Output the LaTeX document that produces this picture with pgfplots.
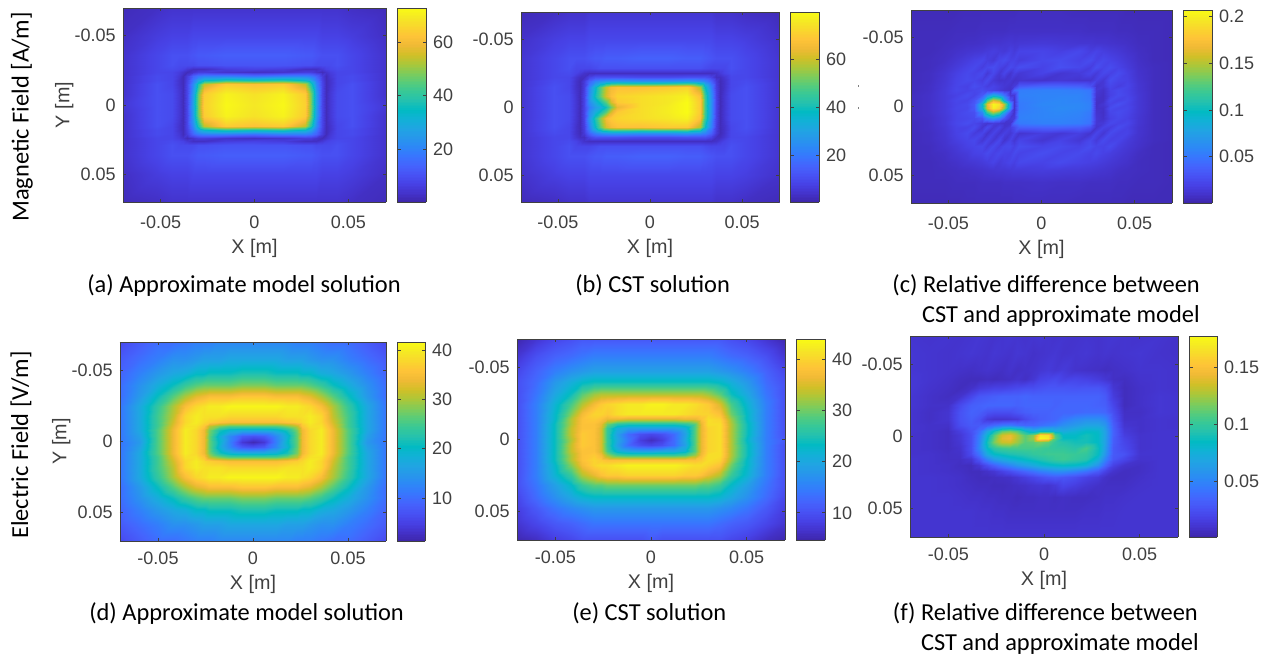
\documentclass[border=0pt]{standalone}
\usepackage{fontspec}
\usepackage{pgfplots}
\pgfplotsset{compat=1.18}
\setmainfont{Liberation Sans}
\newfontfamily\capfont{Carlito}
\pgfplotsset{colormap={parula}{rgb=(.2422,.1504,.6603) rgb=(.2647,.1978,.7952) rgb=(.2783,.2559,.8991) rgb=(.2810,.3228,.9579) rgb=(.2699,.3892,.9906) rgb=(.2206,.4603,.9973) rgb=(.1786,.5289,.9682) rgb=(.1540,.5902,.9218) rgb=(.1248,.6459,.8883) rgb=(.0689,.6948,.8394) rgb=(.0067,.7312,.7660) rgb=(.1408,.7584,.6842) rgb=(.2161,.7843,.5923) rgb=(.3406,.8008,.4789) rgb=(.5044,.7993,.3480) rgb=(.6720,.7793,.2227) rgb=(.8203,.7498,.1535) rgb=(.9393,.7288,.2100) rgb=(.9970,.7659,.2199) rgb=(.9786,.8386,.1766) rgb=(.9597,.9135,.1423) rgb=(.9769,.9839,.0805)}}
\definecolor{ax}{gray}{0.25}
\newcommand\tf{\fontsize{13.5}{16}\selectfont}
\newcommand\lf{\fontsize{14.8}{17}\selectfont}
\pgfplotsset{
 hm/.style={scale only axis,axis on top,view={0}{90},xmin=-70,xmax=70,ymin=-70,ymax=70,y dir=reverse,
  xtick={-50,0,50},ytick={-50,0,50},xticklabels={-0.05,0,0.05},yticklabels={-0.05,0,0.05},
  tick align=inside,major tick length=2.5pt,tick style={ax,line width=.5pt},axis line style={ax,line width=.7pt},
  tick label style={font=\tf,text=ax},label style={font=\lf,text=ax},xlabel={X [m]},colormap name=parula,colorbar sampled,
  yticklabel style={xshift=-2pt},ylabel style={yshift=-6pt}},
 top/.style={hm,xticklabel style={yshift=-7.25pt},xlabel style={yshift=-0.75pt}},
 bot/.style={hm,xticklabel style={yshift=-5pt},xlabel style={yshift=-0.75pt}},
 cb/.style={samples=128,scale only axis,axis line style={ax,line width=.7pt},tick align=inside,major tick length=2.5pt,tick style={ax,line width=.5pt},
  tick label style={font=\tf,text=ax},anchor=north west,yticklabel style={xshift=1.5pt}}
}
\newcommand\startgrid[1]{\gdef\xg{{#1}}\gdef\Coords{}}
\newcommand\G[2]{\foreach \z [count=\i from 0] in {#2}{\pgfmathtruncatemacro\xv{\xg[\i]}\xdef\Coords{\Coords(\xv,#1,\z)}}}
% (a)
\startgrid{-70,-52,-44,-40,-38,-36,-33,-30,-27,-15,0,15,27,30,33,36,38,40,44,52,70}
\G{-70}{2,3,4,4,4,4,4,4,4,4,4,4,4,4,4,4,4,4,4,3,2}
\G{-50}{3,6,7,7,7,7,8,8,8,8,8,8,8,8,8,7,7,7,7,6,3}
\G{-36}{4,8,10,10,10,10,11,12,12,13,13,13,12,12,11,10,10,10,10,8,4}
\G{-29}{4,8,10,9,9,9,9,10,10,11,11,11,10,10,9,9,9,9,10,8,4}
\G{-26}{4,8,9,8,7,5,3,3,3,6,7,6,3,3,3,5,7,8,9,8,4}
\G{-24}{4,8,8,6,4,2,4,6,6,4,3,4,6,6,4,2,4,6,8,8,4}
\G{-21}{4,9,8,5,2,6,14,18,20,20,17,20,20,18,14,6,2,5,8,9,4}
\G{-18}{4,9,8,4,2,7,18,27,33,38,36,38,33,27,18,7,2,4,8,9,4}
\G{-15}{4,10,8,4,2,8,22,38,54,64,62,64,54,38,22,8,2,4,8,10,4}
\G{-8}{4,10,9,5,2,8,26,47,64,71,68,71,64,47,26,8,2,5,9,10,4}
\G{0}{5,10,9,5,2,8,27,48,65,72,69,72,65,48,27,8,2,5,9,10,5}
\G{8}{4,10,9,5,2,8,26,47,64,71,68,71,64,47,26,8,2,5,9,10,4}
\G{15}{4,10,8,4,2,8,22,38,54,64,62,64,54,38,22,8,2,4,8,10,4}
\G{18}{4,9,8,4,2,7,18,27,33,38,36,38,33,27,18,7,2,4,8,9,4}
\G{21}{4,9,8,5,2,6,14,18,20,20,17,20,20,18,14,6,2,5,8,9,4}
\G{24}{4,8,8,6,4,2,4,6,6,4,3,4,6,6,4,2,4,6,8,8,4}
\G{26}{4,8,9,8,7,5,3,3,3,6,7,6,3,3,3,5,7,8,9,8,4}
\G{29}{4,8,10,9,9,9,9,10,10,11,11,11,10,10,9,9,9,9,10,8,4}
\G{36}{4,8,10,10,10,10,11,12,12,13,13,13,12,12,11,10,10,10,10,8,4}
\G{50}{3,6,7,7,7,7,8,8,8,8,8,8,8,8,8,7,7,7,7,6,3}
\G{70}{2,3,4,4,4,4,4,4,4,4,4,4,4,4,4,4,4,4,4,3,2}
\global\let\CoordsA\Coords
% (b)
\startgrid{-70,-52,-44,-40,-38,-36,-33,-30,-27,-24,-21,-18,-5,10,20,27,30,33,36,38,40,44,52,70}
\G{-70}{2,3,4,4,4,4,5,5,5,5,5,5,5,5,5,5,5,5,4,4,4,4,3,2}
\G{-50}{4,7,8,8,8,8,9,9,9,9,9,9,9,9,9,9,9,9,8,8,8,8,7,4}
\G{-36}{5,9,11,11,11,11,12,13,13,14,14,14,15,15,14,14,13,12,11,11,11,11,9,5}
\G{-29}{5,9,11,9,9,9,9,10,11,11,11,11,11,11,11,11,10,9,9,9,9,11,9,5}
\G{-25}{5,9,10,8,6,4,3,3,3,3,3,3,3,3,3,3,3,3,4,6,8,10,9,5}
\G{-22}{5,9,9,5,3,3,8,11,11,11,11,11,10,10,11,11,11,8,3,3,5,9,9,5}
\G{-19}{5,10,9,4,2,6,15,22,25,27,28,28,26,26,28,25,22,15,6,2,4,9,10,5}
\G{-15}{5,11,9,4,2,7,22,36,48,60,66,68,68,70,72,58,38,22,7,2,4,9,11,5}
\G{-8}{5,11,10,5,2,8,25,40,50,62,68,72,74,76,78,68,45,25,8,2,5,10,11,5}
\G{-4}{5,11,10,5,2,8,24,33,40,50,62,70,74,76,80,70,46,26,8,2,5,10,11,5}
\G{0}{5,11,10,5,2,8,20,28,32,40,52,64,74,77,80,70,46,26,8,2,5,10,11,5}
\G{4}{5,11,10,5,2,8,24,33,40,50,62,70,74,77,80,70,46,26,8,2,5,10,11,5}
\G{8}{5,11,10,5,2,8,26,42,54,66,70,72,74,76,78,68,45,25,8,2,5,10,11,5}
\G{15}{5,11,9,4,2,7,22,38,50,62,66,68,68,70,70,58,38,22,7,2,4,9,11,5}
\G{19}{5,10,9,4,2,6,15,22,25,27,28,28,26,26,28,25,22,15,6,2,4,9,10,5}
\G{22}{5,9,9,5,3,3,8,11,11,11,11,11,10,10,11,11,11,8,3,3,5,9,9,5}
\G{25}{5,9,10,8,6,4,3,3,3,3,3,3,3,3,3,3,3,3,4,6,8,10,9,5}
\G{29}{5,9,11,9,9,9,9,10,11,11,11,11,11,11,11,11,10,9,9,9,9,11,9,5}
\G{36}{5,9,11,11,11,11,12,13,13,14,14,14,15,15,14,14,13,12,11,11,11,11,9,5}
\G{50}{4,7,8,8,8,8,9,9,9,9,9,9,9,9,9,9,9,9,8,8,8,8,7,4}
\G{70}{2,3,4,4,4,4,5,5,5,5,5,5,5,5,5,5,5,5,4,4,4,4,3,2}
\global\let\CoordsB\Coords
% (c) values in thousandths
\startgrid{-70,-60,-52,-46,-40,-36,-32,-29,-26,-23,-20,-17,-15,-12,0,10,20,26,29,33,37,41,46,52,60,70}
\G{-70}{5,5,5,5,6,6,6,6,6,6,6,6,6,7,7,7,6,6,6,6,6,6,5,5,5,5}
\G{-55}{6,6,6,7,7,7,8,8,8,8,8,9,9,9,9,9,9,8,8,8,8,7,7,6,6,5}
\G{-46}{6,6,7,8,9,9,10,11,12,12,13,14,13,14,15,14,13,13,12,12,11,10,9,7,6,5}
\G{-40}{6,6,8,10,12,13,14,16,18,16,15,19,16,21,22,19,24,18,21,18,16,14,11,8,6,5}
\G{-34}{6,7,9,13,17,20,23,18,15,23,26,20,21,17,24,26,21,26,20,24,21,18,14,9,6,5}
\G{-29}{6,7,11,16,21,24,18,24,27,21,17,25,22,27,21,28,24,18,27,22,26,21,16,10,7,5}
\G{-24}{6,8,13,19,24,21,25,15,24,14,22,12,19,14,21,13,16,22,16,24,20,26,19,11,7,5}
\G{-19}{6,8,14,21,25,23,18,25,15,11,12,14,10,12,11,14,12,12,20,14,27,22,20,12,7,5}
\G{-15}{6,9,15,22,20,27,23,18,21,17,14,11,16,34,40,40,38,30,12,14,23,18,22,13,7,5}
\G{-12}{6,9,16,23,21,23,26,23,20,16,12,10,40,54,56,56,54,50,14,10,21,25,21,13,7,5}
\G{-8}{7,10,16,20,26,22,34,62,85,72,48,14,14,56,58,58,58,52,12,9,20,26,22,14,7,5}
\G{-5}{7,10,16,23,22,30,60,120,160,145,85,30,11,54,58,60,58,54,10,9,25,21,24,14,7,5}
\G{-2}{7,10,16,22,25,34,95,165,205,195,150,70,10,52,60,60,60,56,9,13,22,28,22,14,7,5}
\G{1}{7,10,16,23,24,34,90,160,200,185,140,65,10,52,58,62,60,56,10,10,26,23,23,14,7,5}
\G{4}{7,10,16,22,26,28,62,120,150,130,80,28,11,54,58,60,58,52,12,9,23,26,22,14,7,5}
\G{8}{7,9,15,22,24,26,32,58,72,58,32,14,16,56,58,58,56,50,14,10,20,24,20,13,7,5}
\G{12}{6,9,15,23,27,23,17,13,17,14,11,12,42,52,56,56,54,48,14,15,24,21,23,13,7,5}
\G{15}{6,9,14,21,21,26,13,25,14,21,12,18,26,38,40,40,38,30,12,21,18,26,20,12,7,5}
\G{19}{6,8,13,20,25,17,22,12,21,13,19,14,21,12,18,14,19,12,22,14,25,20,21,12,7,5}
\G{24}{6,8,12,18,22,24,14,22,14,24,12,21,14,22,13,21,14,24,16,25,20,22,16,11,7,5}
\G{29}{6,7,11,15,20,22,24,17,25,18,24,25,20,27,22,25,21,27,22,21,25,18,14,10,6,5}
\G{34}{6,7,9,13,16,20,21,25,20,24,21,20,25,21,27,22,25,21,24,20,18,15,12,8,6,5}
\G{40}{6,6,8,10,13,14,16,18,21,16,19,22,19,24,21,25,21,19,18,16,14,12,10,7,6,5}
\G{46}{6,6,7,8,9,10,11,12,13,14,14,15,16,16,17,16,15,14,13,12,11,9,8,7,6,5}
\G{55}{6,6,6,7,7,7,8,8,8,8,9,9,9,9,10,9,9,8,8,8,8,7,7,6,6,5}
\G{70}{5,5,5,5,6,6,6,6,6,6,6,6,7,7,7,7,6,6,6,6,6,6,5,5,5,5}
\global\let\CoordsC\Coords
% (d)
\startgrid{-70,-60,-50,-42,-36,-30,-26,-23,-18,-12,-6,0,6,12,18,23,26,30,36,42,50,60,70}
\G{-70}{6,8,10,10,11,12,12,12,13,13,13,13,13,13,13,12,12,12,11,10,10,8,6}
\G{-58}{8,10,12,14,14,15,16,16,16,17,17,17,17,17,16,16,16,15,14,14,12,10,8}
\G{-48}{9,12,15,17,18,20,20,21,21,21,22,22,22,21,21,21,20,20,18,17,15,12,9}
\G{-40}{10,14,18,21,24,26,27,27,27,27,28,28,28,27,27,27,27,26,24,21,18,14,10}
\G{-32}{10,15,21,26,30,33,34,35,35,35,36,36,36,35,35,35,34,33,30,26,21,15,10}
\G{-25}{11,17,24,30,35,38,39,40,40,41,41,41,41,41,40,40,39,38,35,30,24,17,11}
\G{-18}{11,17,25,31,38,40,39,39,39,38,38,38,38,38,39,39,39,40,38,31,25,17,11}
\G{-14}{11,17,25,32,38,40,38,37,36,35,35,35,35,35,36,37,38,40,38,32,25,17,11}
\G{-11}{11,17,25,33,39,39,36,31,28,26,26,26,26,26,28,31,36,39,39,33,25,17,11}
\G{-8}{11,17,26,34,40,38,34,28,22,19,18,18,18,19,22,28,34,38,40,34,26,17,11}
\G{-4}{11,16,26,34,40,38,34,27,19,13,8,7,8,13,19,27,34,38,40,34,26,16,11}
\G{0}{11,15,26,34,40,38,34,27,20,12,4,2,4,12,20,27,34,38,40,34,26,15,11}
\G{4}{11,16,26,34,40,38,34,27,19,13,8,7,8,13,19,27,34,38,40,34,26,16,11}
\G{8}{11,17,26,34,40,38,34,28,22,19,18,18,18,19,22,28,34,38,40,34,26,17,11}
\G{11}{11,17,25,33,39,39,36,31,28,26,26,26,26,26,28,31,36,39,39,33,25,17,11}
\G{14}{11,17,25,32,38,40,38,37,36,35,35,35,35,35,36,37,38,40,38,32,25,17,11}
\G{18}{11,17,25,31,38,40,39,39,39,38,38,38,38,38,39,39,39,40,38,31,25,17,11}
\G{25}{11,17,24,30,35,38,39,40,40,41,41,41,41,41,40,40,39,38,35,30,24,17,11}
\G{32}{10,15,21,26,30,33,34,35,35,35,36,36,36,35,35,35,34,33,30,26,21,15,10}
\G{40}{10,14,18,21,24,26,27,27,27,27,28,28,28,27,27,27,27,26,24,21,18,14,10}
\G{48}{9,12,15,17,18,20,20,21,21,21,22,22,22,21,21,21,20,20,18,17,15,12,9}
\G{58}{8,10,12,14,14,15,16,16,16,17,17,17,17,17,16,16,16,15,14,14,12,10,8}
\G{70}{6,8,10,10,11,12,12,12,13,13,13,13,13,13,13,12,12,12,11,10,10,8,6}
\global\let\CoordsD\Coords
% (e)
\startgrid{-70,-60,-50,-42,-36,-30,-26,-23,-18,-12,-6,0,6,12,18,23,26,30,36,42,50,60,70}
\G{-70}{5,7,9,10,11,11,11,11,11,11,11,11,11,11,11,11,11,11,11,10,9,7,5}
\G{-58}{7,10,12,13,14,15,15,15,15,15,15,15,15,15,15,15,15,15,14,13,12,10,7}
\G{-48}{9,12,15,17,18,19,19,19,19,19,19,19,19,19,19,19,19,19,18,17,15,12,9}
\G{-40}{10,13,18,21,23,24,24,24,24,24,24,24,24,24,24,24,24,24,23,21,18,13,10}
\G{-32}{10,14,20,24,29,32,33,33,33,33,33,33,33,33,33,33,33,32,29,24,20,14,10}
\G{-25}{10,15,22,28,33,37,39,40,41,42,42,43,43,42,42,41,40,39,35,28,22,15,10}
\G{-18}{10,15,23,31,37,40,40,39,41,42,42,42,42,42,41,40,40,40,38,30,23,15,10}
\G{-14}{10,15,23,33,38,39,38,36,36,35,35,35,35,35,36,36,38,41,40,32,23,15,10}
\G{-11}{10,15,24,33,38,38,36,30,26,25,25,25,25,25,26,29,36,41,41,33,24,15,10}
\G{-8}{10,15,24,34,38,38,35,27,21,19,19,19,19,19,21,29,36,40,41,33,24,15,10}
\G{-4}{10,15,24,34,39,38,35,27,19,13,10,9,10,13,19,29,36,40,41,33,24,15,10}
\G{0}{10,15,24,33,39,38,35,27,20,14,8,6,8,13,20,29,36,40,41,33,23,15,11}
\G{4}{10,15,24,34,39,38,35,27,19,13,10,9,10,13,19,29,36,40,41,33,24,15,10}
\G{8}{10,15,24,34,38,38,35,28,22,20,19,19,20,20,22,29,36,40,41,33,24,15,10}
\G{11}{10,15,24,33,38,39,37,32,28,27,27,27,27,27,28,32,37,41,41,33,24,15,10}
\G{14}{10,15,24,33,38,40,39,38,38,38,38,38,38,38,38,38,39,41,40,32,23,15,10}
\G{18}{10,15,23,31,37,40,41,41,42,43,43,43,43,43,42,41,41,40,38,30,23,15,10}
\G{25}{10,15,22,27,33,36,38,39,39,40,40,40,40,40,39,39,38,36,33,27,22,15,10}
\G{32}{10,14,19,23,27,29,29,30,30,30,30,30,30,30,30,30,29,29,27,23,19,14,10}
\G{40}{9,13,17,20,22,23,23,23,23,23,23,23,23,23,23,23,23,23,22,20,17,13,9}
\G{48}{8,11,14,16,17,18,18,18,18,18,18,18,18,18,18,18,18,18,17,16,14,11,8}
\G{58}{7,9,11,12,13,14,14,14,14,14,14,14,14,14,14,14,14,14,13,12,11,9,7}
\G{70}{5,6,8,9,10,10,10,10,10,10,10,11,10,10,10,10,10,10,10,9,8,6,5}
\global\let\CoordsE\Coords
% (f) values in thousandths
\startgrid{-70,-60,-50,-44,-38,-34,-30,-26,-22,-18,-14,-10,-6,-2,2,6,10,16,22,28,32,36,42,50,60,70}
\G{-70}{11,10,11,10,11,12,11,10,11,12,11,10,11,12,11,10,11,10,11,10,11,12,11,10,11,9}
\G{-58}{12,11,10,11,12,11,10,12,11,10,12,11,9,10,11,12,10,11,12,10,11,10,11,12,10,9}
\G{-46}{12,11,10,9,8,9,10,9,8,10,8,9,10,12,14,12,14,10,9,8,7,8,9,11,11,10}
\G{-40}{13,11,9,7,6,6,7,6,7,8,10,8,12,18,20,22,18,20,18,15,12,8,7,10,11,10}
\G{-34}{13,10,8,6,9,14,16,18,18,20,22,24,24,26,28,28,28,27,28,28,24,12,6,9,11,10}
\G{-28}{12,9,7,10,20,28,30,32,34,34,34,36,34,34,34,34,34,34,34,34,30,15,6,9,12,11}
\G{-22}{12,9,9,22,32,34,36,36,36,36,34,36,36,36,36,34,36,36,36,34,32,20,6,9,12,11}
\G{-17}{11,8,11,26,34,32,26,24,24,24,28,32,34,34,34,36,36,36,38,38,36,24,8,8,12,11}
\G{-12}{11,8,11,26,32,26,14,11,11,12,14,22,28,32,34,36,44,52,56,56,50,28,9,9,11,10}
\G{-8}{11,9,9,24,30,30,32,38,44,46,40,36,36,40,44,48,56,62,68,68,60,32,11,9,11,10}
\G{-4}{11,9,7,16,26,40,68,88,112,118,110,88,74,84,84,76,72,78,84,82,66,34,14,9,11,11}
\G{-1}{10,9,7,13,24,46,80,110,136,142,128,110,120,168,165,108,84,84,90,84,66,34,16,10,11,11}
\G{1}{10,9,7,13,24,48,84,114,140,144,128,112,124,176,170,110,86,86,90,84,66,32,18,10,11,11}
\G{4}{10,9,7,12,24,50,90,118,134,136,124,110,112,118,112,100,94,90,90,84,66,32,20,10,11,11}
\G{8}{10,9,7,10,24,52,84,98,104,106,106,106,106,104,102,100,100,96,106,88,64,30,22,10,11,11}
\G{12}{10,10,8,9,22,42,72,84,88,92,94,96,100,102,104,104,104,102,100,86,60,30,26,11,11,11}
\G{16}{11,10,8,8,12,28,50,64,72,78,82,86,90,94,98,102,104,100,96,76,50,28,20,10,11,11}
\G{20}{11,10,9,7,6,12,24,34,44,52,60,66,72,78,82,84,86,84,78,58,36,18,10,8,11,11}
\G{24}{11,10,9,8,6,6,9,12,18,24,30,36,42,48,52,56,56,50,42,30,18,10,7,8,11,11}
\G{28}{11,11,10,9,7,6,6,7,8,9,12,16,20,24,28,30,28,24,18,14,9,7,7,9,11,11}
\G{34}{11,11,10,9,8,7,7,6,6,7,8,9,11,12,11,14,20,16,12,9,8,8,8,10,11,11}
\G{42}{11,11,11,10,9,9,8,8,7,7,6,7,7,8,8,7,8,7,7,8,9,9,10,11,11,11}
\G{52}{11,11,11,11,11,10,10,9,9,8,8,8,8,8,8,8,8,8,9,9,10,10,11,11,11,11}
\G{70}{11,11,11,11,11,11,11,11,11,11,11,11,11,11,11,11,11,11,11,11,11,11,11,11,11,11}
\global\let\CoordsF\Coords
\newcommand\heat[2]{\edef\tmp{\noexpand\addplot3[surf,shader=interp,mesh/cols=#2] coordinates {#1};}\tmp}
\begin{document}
\begin{tikzpicture}
\path[use as bounding box] (0,0) rectangle (945.75pt,-490.5pt);
\begin{axis}[top,at={(92.25pt,-6pt)},anchor=north west,width=197.25pt,height=145.5pt,ylabel={Y [m]},point meta min=0.2,point meta max=72.7,
 colorbar style={cb,at={([xshift=9.75pt]parent axis.north east)},width=21.75pt,ytick={20,40,60},yticklabels={20,40,60}}]
\heat{\CoordsA}{21}
\end{axis}
\begin{axis}[top,at={(390.75pt,-9pt)},anchor=north west,width=193.5pt,height=142.5pt,point meta min=0.2,point meta max=80,
 colorbar style={cb,at={([xshift=9pt]parent axis.north east)},width=21.75pt,ytick={20,40,60},yticklabels={20,40,60}}]
\heat{\CoordsB}{24}
\end{axis}
\begin{axis}[top,at={(683.25pt,-7.5pt)},anchor=north west,width=195.75pt,height=144.75pt,point meta min=0.5,point meta max=207,
 colorbar style={cb,at={([xshift=9.75pt]parent axis.north east)},width=21.75pt,ytick={50,100,150,200},yticklabels={0.05,0.1,0.15,0.2}}]
\heat{\CoordsC}{26}
\end{axis}
\begin{axis}[bot,at={(90pt,-256.5pt)},anchor=north west,width=199.5pt,height=149.25pt,ylabel={Y [m]},point meta min=1.3,point meta max=41.6,
 colorbar style={cb,at={([xshift=9.75pt]parent axis.north east)},width=21pt,ytick={10,20,30,40},yticklabels={10,20,30,40}}]
\heat{\CoordsD}{23}
\end{axis}
\begin{axis}[bot,at={(387.75pt,-254.25pt)},anchor=north west,width=201pt,height=150.75pt,point meta min=4.7,point meta max=43.9,
 colorbar style={cb,at={([xshift=9pt]parent axis.north east)},width=21.75pt,ytick={10,20,30,40},yticklabels={10,20,30,40}}]
\heat{\CoordsE}{23}
\end{axis}
\begin{axis}[bot,at={(682.5pt,-252pt)},anchor=north west,width=201pt,height=150.75pt,point meta min=1,point meta max=178,
 colorbar style={cb,at={([xshift=9.75pt]parent axis.north east)},width=21pt,ytick={50,100,150},yticklabels={0.05,0.1,0.15}}]
\heat{\CoordsF}{26}
\end{axis}
\begin{scope}[every node/.style={font=\capfont\fontsize{18.3}{22}\selectfont,inner sep=0pt,text=black}]
\node[anchor=base west] at (65.25pt,-219pt) {(a) Approximate model solution};
\node[anchor=base west] at (431.25pt,-219pt) {(b) CST solution};
\node[anchor=base east] at (900pt,-219pt) {(c) Relative difference between};
\node[anchor=base east] at (900pt,-241.5pt) {CST and approximate model};
\node[anchor=base west] at (66.75pt,-465pt) {(d) Approximate model solution};
\node[anchor=base west] at (429pt,-465pt) {(e) CST solution};
\node[anchor=base east] at (898.5pt,-465pt) {(f) Relative difference between};
\node[anchor=base east] at (899.25pt,-487.5pt) {CST and approximate model};
\node[rotate=90] at (16.5pt,-87.75pt) {Magnetic Field [A/m]};
\node[rotate=90] at (15.75pt,-333.75pt) {Electric Field [V/m]};
\end{scope}
\fill[black!50] (643.2pt,-64pt) rectangle +(.9pt,-1.6pt);
\fill[black!50] (643.2pt,-80.5pt) rectangle +(.9pt,-1.6pt);
\end{tikzpicture}
\end{document}
